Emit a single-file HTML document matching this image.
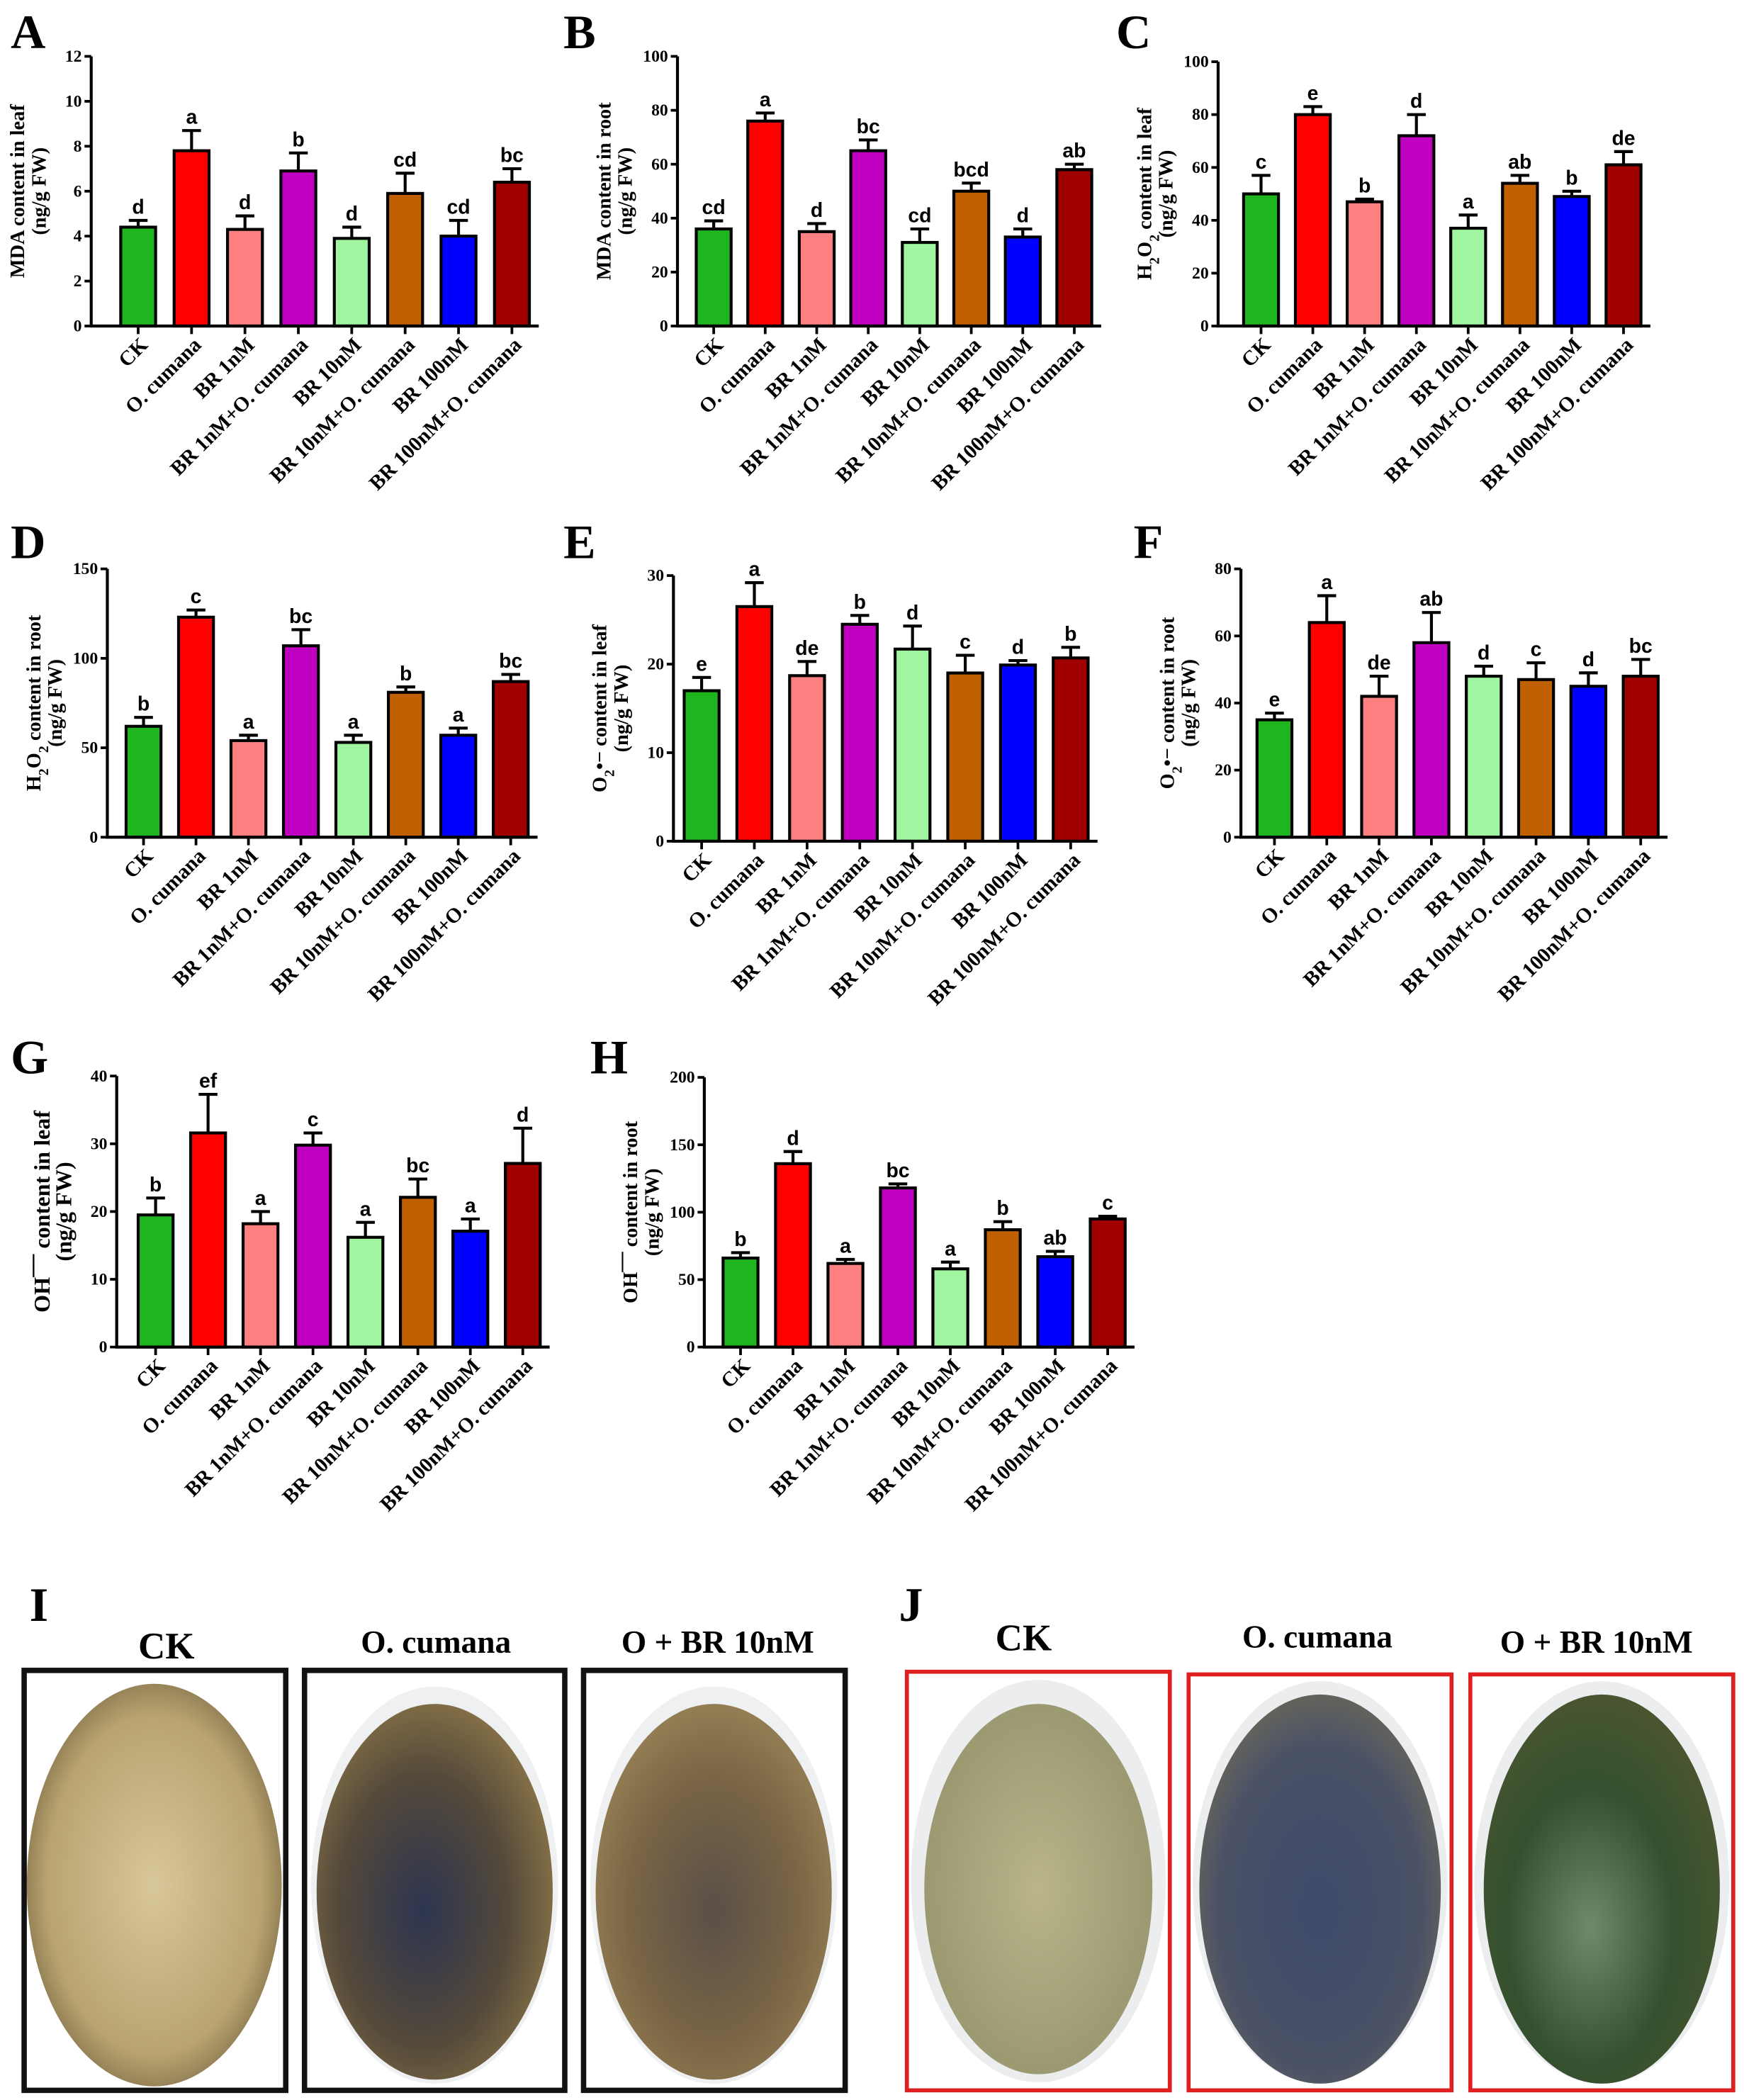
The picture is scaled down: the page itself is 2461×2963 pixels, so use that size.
<!DOCTYPE html>
<html><head><meta charset="utf-8"><style>
html,body{margin:0;padding:0;background:#fff;}
svg{display:block;font-family:"Liberation Serif",serif;}
.sans{font-family:"Liberation Sans",sans-serif;}
</style></head><body>
<svg id="fig" width="2461" height="2963" viewBox="0 0 1300 1565.2" preserveAspectRatio="none" xmlns="http://www.w3.org/2000/svg">
<defs>
<radialGradient id="leafI1" cx="50%" cy="50%" r="60%"><stop offset="0" stop-color="#d8c79a"/><stop offset="0.7" stop-color="#b9a470"/><stop offset="1" stop-color="#6b5a3a"/></radialGradient>
<radialGradient id="leafI2" cx="45%" cy="55%" r="60%"><stop offset="0" stop-color="#2d3550"/><stop offset="0.6" stop-color="#54493a"/><stop offset="1" stop-color="#8a7548"/></radialGradient>
<radialGradient id="leafI3" cx="50%" cy="55%" r="60%"><stop offset="0" stop-color="#5a5048"/><stop offset="0.6" stop-color="#7a6545"/><stop offset="1" stop-color="#9a8458"/></radialGradient>
<radialGradient id="leafJ1" cx="50%" cy="50%" r="60%"><stop offset="0" stop-color="#b9b48a"/><stop offset="1" stop-color="#96946c"/></radialGradient>
<radialGradient id="leafJ2" cx="50%" cy="55%" r="60%"><stop offset="0" stop-color="#3d4a6a"/><stop offset="0.7" stop-color="#4b5266"/><stop offset="1" stop-color="#6d6a58"/></radialGradient>
<radialGradient id="leafJ3" cx="45%" cy="60%" r="60%"><stop offset="0" stop-color="#6f8a6a"/><stop offset="0.6" stop-color="#33502e"/><stop offset="1" stop-color="#4a5530"/></radialGradient>
</defs>
<g id="charts"></g>
<g id="photos">
<text x="22" y="1208" font-size="36" font-weight="bold">I</text>
<text x="670" y="1208" font-size="36" font-weight="bold">J</text>
<text x="124" y="1236" font-size="28" font-weight="bold" text-anchor="middle">CK</text>
<text x="325" y="1232" font-size="24" font-weight="bold" text-anchor="middle">O. cumana</text>
<text x="535" y="1232" font-size="24" font-weight="bold" text-anchor="middle">O + BR 10nM</text>
<text x="763" y="1230" font-size="28" font-weight="bold" text-anchor="middle">CK</text>
<text x="982" y="1228" font-size="24" font-weight="bold" text-anchor="middle">O. cumana</text>
<text x="1190" y="1232" font-size="24" font-weight="bold" text-anchor="middle">O + BR 10nM</text>
<g><rect x="18" y="1245" width="195" height="313" fill="#fff" stroke="#111" stroke-width="4"/><ellipse cx="115" cy="1405" rx="95" ry="150" fill="url(#leafI1)"/></g>
<g><rect x="227" y="1245" width="194" height="313" fill="#fff" stroke="#111" stroke-width="4"/><ellipse cx="324" cy="1405" rx="92" ry="148" fill="#eef0f2"/><ellipse cx="324" cy="1410" rx="88" ry="140" fill="url(#leafI2)"/></g>
<g><rect x="435" y="1245" width="195" height="313" fill="#fff" stroke="#111" stroke-width="4"/><ellipse cx="532" cy="1405" rx="92" ry="148" fill="#eef0f2"/><ellipse cx="532" cy="1410" rx="88" ry="140" fill="url(#leafI3)"/></g>
<g><rect x="676" y="1246" width="196" height="312" fill="#fff" stroke="#e02020" stroke-width="3"/><ellipse cx="774" cy="1402" rx="95" ry="150" fill="#ebedef"/><ellipse cx="774" cy="1408" rx="85" ry="138" fill="url(#leafJ1)"/></g>
<g><rect x="886" y="1248" width="196" height="310" fill="#fff" stroke="#e02020" stroke-width="3"/><ellipse cx="984" cy="1403" rx="95" ry="150" fill="#ebedef"/><ellipse cx="984" cy="1408" rx="90" ry="145" fill="url(#leafJ2)"/></g>
<g><rect x="1096" y="1248" width="196" height="310" fill="#fff" stroke="#e02020" stroke-width="3"/><ellipse cx="1194" cy="1403" rx="95" ry="150" fill="#ebedef"/><ellipse cx="1194" cy="1408" rx="88" ry="145" fill="url(#leafJ3)"/></g>
</g>
</svg>
<script>
const categories = ["CK","O. cumana","BR 1nM","BR 1nM+O. cumana","BR 10nM","BR 10nM+O. cumana","BR 100nM","BR 100nM+O. cumana"];
const barColors = ["#1fb51f","#ff0000","#ff8080","#c000c0","#a0f5a0","#c06000","#0000ff","#a00000"];

const aValues = [4.4,7.8,4.3,6.9,3.9,5.9,4.0,6.4];
const aErrors = [0.3,0.9,0.6,0.8,0.5,0.9,0.7,0.6];
const aLetters = ["d","a","d","b","d","cd","cd","bc"];
const aTicks = [0,2,4,6,8,10,12];

const bValues = [36,76,35,65,31,50,33,58];
const bErrors = [3,3,3,4,5,3,3,2];
const bLetters = ["cd","a","d","bc","cd","bcd","d","ab"];
const bTicks = [0,20,40,60,80,100];

const cValues = [50,80,47,72,37,54,49,61];
const cErrors = [7,3,1,8,5,3,2,5];
const cLetters = ["c","e","b","d","a","ab","b","de"];
const cTicks = [0,20,40,60,80,100];

const dValues = [62,123,54,107,53,81,57,87];
const dErrors = [5,4,3,9,4,3,4,4];
const dLetters = ["b","c","a","bc","a","b","a","bc"];
const dTicks = [0,50,100,150];

const eValues = [17,26.5,18.7,24.5,21.7,19,19.9,20.7];
const eErrors = [1.5,2.7,1.6,1,2.6,2,0.5,1.2];
const eLetters = ["e","a","de","b","d","c","d","b"];
const eTicks = [0,10,20,30];

const fValues = [35,64,42,58,48,47,45,48];
const fErrors = [2,8,6,9,3,5,4,5];
const fLetters = ["e","a","de","ab","d","c","d","bc"];
const fTicks = [0,20,40,60,80];

const gValues = [19.5,31.6,18.2,29.8,16.2,22.1,17.1,27.1];
const gErrors = [2.5,5.7,1.8,1.8,2.2,2.7,1.8,5.2];
const gLetters = ["b","ef","a","c","a","bc","a","d"];
const gTicks = [0,10,20,30,40];

const hValues = [66,136,62,118,58,87,67,95];
const hErrors = [4,9,3,3,5,6,4,2];
const hLetters = ["b","d","a","bc","a","b","ab","c"];
const hTicks = [0,50,100,150,200];

const NS = "http://www.w3.org/2000/svg";
const root = document.getElementById("charts");
function mk(tag, attrs, parent){const e=document.createElementNS(NS,tag);for(const k in attrs)e.setAttribute(k,attrs[k]);parent.appendChild(e);return e;}

const panels = [
 {id:"a",label:"A",lx:8,ly:36,ax:68,y0:243,yt:42,first:103,step:39.8,vals:aValues,errs:aErrors,lets:aLetters,ticks:aTicks,title:["MDA content in leaf","(ng/g FW)"]},
 {id:"b",label:"B",lx:420,ly:36,ax:505,y0:243,yt:42,first:532,step:38.4,vals:bValues,errs:bErrors,lets:bLetters,ticks:bTicks,title:["MDA content in root","(ng/g FW)"]},
 {id:"c",label:"C",lx:832,ly:36,ax:908,y0:243,yt:46,first:940,step:38.6,vals:cValues,errs:cErrors,lets:cLetters,ticks:cTicks,title:["H|2|O|2| content in leaf","(ng/g FW)"]},
 {id:"d",label:"D",lx:8,ly:416,ax:80,y0:624,yt:424,first:107,step:39.1,vals:dValues,errs:dErrors,lets:dLetters,ticks:dTicks,title:["H|2|O|2| content in  root","(ng/g FW)"]},
 {id:"e",label:"E",lx:420,ly:416,ax:502,y0:627,yt:429,first:523,step:39.3,vals:eValues,errs:eErrors,lets:eLetters,ticks:eTicks,title:["O|2|•− content in leaf","(ng/g FW)"]},
 {id:"f",label:"F",lx:845,ly:416,ax:925,y0:624,yt:424,first:950,step:39,vals:fValues,errs:fErrors,lets:fLetters,ticks:fTicks,title:["O|2|•− content in root","(ng/g FW)"]},
 {id:"g",label:"G",lx:8,ly:800,ax:87,y0:1004,yt:802,first:116,step:39.1,vals:gValues,errs:gErrors,lets:gLetters,ticks:gTicks,title:["OH¯¯ content in leaf","(ng/g FW)"],big:true},
 {id:"h",label:"H",lx:440,ly:800,ax:525,y0:1004,yt:803,first:552,step:39.1,vals:hValues,errs:hErrors,lets:hLetters,ticks:hTicks,title:["OH¯¯ content in root","(ng/g FW)"]}
];

function titleText(parent, str, x, y, size){
  const t = mk("text",{x:x,y:y,"font-size":size,"font-weight":"bold","text-anchor":"middle",transform:`rotate(-90 ${x} ${y})`},parent);
  const parts = str.split("|");
  parts.forEach((p,i)=>{
    if(!p) return;
    const ts = mk("tspan",{},t);
    if(i%2===1){ts.setAttribute("baseline-shift","sub");ts.setAttribute("font-size",size*0.7);}
    ts.textContent = p;
  });
  return t;
}

panels.forEach(p=>{
  const g = mk("g",{},root);
  
  
  const ymax = p.ticks[p.ticks.length-1];
  const ys = v => p.y0 - (v/ymax)*(p.y0-p.yt);
  const xs = i => p.first + i*p.step;
  const bw = 26;
  const lab = mk("text",{x:p.lx,y:p.ly,"font-size":36,"font-weight":"bold"},g);
  
  
  lab.textContent = p.label;
  const midY = (p.y0+p.yt)/2;
  const fs = p.big?17:15;
  const t1 = titleText(g, p.title[0], p.ax-50, midY, fs);
  
  
  const t2 = titleText(g, p.title[1], p.ax-34, midY, fs);
  
  
  p.vals.forEach((v,i)=>{
    const cx = xs(i);
    const top = ys(v);
    const r = mk("rect",{x:cx-bw/2,y:top,width:bw,height:p.y0-top,fill:barColors[i],stroke:"#000","stroke-width":2.2},g);
    
    
    const et = ys(v+p.errs[i]);
    const e = mk("path",{d:`M${cx} ${top} V${et} M${cx-7} ${et} H${cx+7}`,stroke:"#000","stroke-width":2.2,fill:"none"},g);
    
    
    const lt = mk("text",{x:cx,y:et-5,"font-size":15,"font-weight":"bold","text-anchor":"middle",class:"sans"},g);
    
    
    lt.textContent = p.lets[i];
    mk("line",{x1:cx,y1:p.y0,x2:cx,y2:p.y0+6,stroke:"#000","stroke-width":2},g);
    const tx = cx+8, ty = p.y0+15;
    const cl = mk("text",{x:tx,y:ty,"font-size":15.5,"font-weight":"bold","text-anchor":"end",transform:`rotate(-45 ${tx} ${ty})`},g);
    
    
    cl.textContent = categories[i];
  });
  const axis = mk("path",{d:`M${p.ax} ${p.yt} V${p.y0} H${xs(7)+20}`,stroke:"#000","stroke-width":2.2,fill:"none"},g);
  
  
  p.ticks.forEach(tv=>{
    const y = ys(tv);
    mk("line",{x1:p.ax-5,y1:y,x2:p.ax,y2:y,stroke:"#000","stroke-width":2},g);
    const tt = mk("text",{x:p.ax-7,y:y+4,"font-size":12.5,"font-weight":"bold","text-anchor":"end"},g);
    
    
    tt.textContent = tv;
  });
});
</script>
</body></html>
